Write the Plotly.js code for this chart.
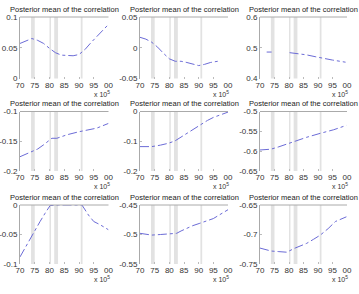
<!DOCTYPE html>
<html><head><meta charset="utf-8">
<script src="https://cdn.plot.ly/plotly-3.0.1.min.js"></script>
<style>html,body{margin:0;padding:0;background:#fff;}#c{width:359px;height:294px;}</style>
</head><body><div id="c"></div>
<script>
const xTickVals = [1970, 1975, 1980, 1985, 1990, 1995, 2000];
const xTickText = ["70", "75", "80", "85", "90", "95", "00"];
const recessions = [[1973.75, 1975.0], [1980.0, 1980.5], [1981.6, 1982.9], [1990.6, 1991.2]];
const titleText = "Posterior mean of the correlation";

const x1 = [1970,1972,1974,1976,1978,1980,1982,1984,1986,1988,1990,1992,1994,1996,1998,2000];
const y1 = [0.057,0.061,0.065,0.062,0.057,0.049,0.042,0.038,0.037,0.037,0.039,0.047,0.058,0.068,0.078,0.088];

const x2 = [1970,1972,1974,1976,1978,1980,1982,1984,1986,1988,1990,1992,1994,1996.5];
const y2 = [0.017,0.014,0.009,0.001,-0.009,-0.018,-0.022,-0.022,-0.024,-0.027,-0.029,-0.027,-0.024,-0.022];

const x3 = [1972.3,1973.2,1974.0,null,1980.2,1983,1986,1989,1992,1995,1999.5];
const y3 = [0.486,0.486,0.486,null,0.484,0.481,0.477,0.471,0.465,0.460,0.453];

const x4 = [1970,1972,1974.5,1976,1978,1980.8,1982.5,1986,1990,1993,1996,2000];
const y4 = [-0.176,-0.172,-0.167,-0.163,-0.156,-0.145,-0.145,-0.139,-0.134,-0.131,-0.128,-0.120];

const x5 = [1970,1974,1977,1979.6,1981.9,1984,1986,1988,1990.4,1993,1995,1998,2000];
const y5 = [-0.118,-0.118,-0.113,-0.107,-0.099,-0.086,-0.073,-0.060,-0.045,-0.030,-0.020,-0.010,-0.002];

const x6 = [1970,1973.8,1976.5,1979.2,1982.1,1986.1,1990.8,1995.4,1999.8];
const y6 = [-0.597,-0.595,-0.589,-0.582,-0.574,-0.565,-0.555,-0.546,-0.535];

const x7 = [1970,1972,1974,1976.8,1978.5,1980.2,1983,1986,1989,1991,1993.2,1995,1997,2000];
const y7 = [-0.088,-0.070,-0.051,-0.028,-0.014,-0.001,0,0,0,0,-0.017,-0.028,-0.033,-0.042];

const x8 = [1970,1972,1974,1977,1979.6,1982.5,1984,1986,1988,1990.4,1993,1995,1997,2000];
const y8 = [-0.498,-0.500,-0.501,-0.500,-0.499,-0.498,-0.494,-0.489,-0.485,-0.481,-0.477,-0.473,-0.467,-0.458];

const x9 = [1970,1972,1973.8,1976.5,1979.2,1982.1,1984,1986.1,1988.5,1990.8,1993.5,1996,1999.8];
const y9 = [-0.723,-0.726,-0.728,-0.729,-0.730,-0.723,-0.719,-0.715,-0.708,-0.701,-0.690,-0.678,-0.670];

const yRanges = [[0,0.1],[-0.05,0.05],[0.4,0.6],[-0.2,-0.1],[-0.2,0],[-0.65,-0.5],[-0.1,0],[-0.55,-0.45],[-0.75,-0.65]];
const yTicks = [[0,0.05,0.1],[-0.05,0,0.05],[0.4,0.5,0.6],[-0.2,-0.15,-0.1],[-0.2,-0.1,0],[-0.65,-0.6,-0.55,-0.5],[-0.1,-0.05,0],[-0.55,-0.5,-0.45],[-0.75,-0.7,-0.65]];

const xs = [x1,x2,x3,x4,x5,x6,x7,x8,x9];
const ys = [y1,y2,y3,y4,y5,y6,y7,y8,y9];

const W = 359, H = 294;
const colPx = [[20,108.5],[140,228],[260,347]];
const rowPx = [[17,78.5],[111.5,171],[205,264]];

const data = [];
const layout = {
  width: W, height: H, margin: {l:0,r:0,t:0,b:0},
  paper_bgcolor: "#fff", plot_bgcolor: "#fff",
  showlegend: false,
  font: {family: "Liberation Sans, Arial, sans-serif", size: 8, color: "#222"},
  shapes: [], annotations: []
};
for (let i = 0; i < 9; i++) {
  const r = Math.floor(i / 3), c = i % 3;
  const n = i === 0 ? "" : String(i + 1);
  const xa = "x" + n, ya = "y" + n;
  data.push({
    x: xs[i], y: ys[i], xaxis: xa, yaxis: ya, type: "scatter", mode: "lines",
    line: {color: "#6b6bd6", width: 1, dash: "dashdot"}, connectgaps: false
  });
  layout["xaxis" + n] = {
    domain: [colPx[c][0] / W, colPx[c][1] / W], anchor: ya,
    range: [1970, 2000], tickvals: xTickVals, ticktext: xTickText,
    showgrid: false, zeroline: false, showline: false,
    ticks: "inside", ticklen: 2, tickcolor: "#bbb", tickfont: {size: 8, color: "#333"}
  };
  layout["yaxis" + n] = {
    domain: [1 - rowPx[r][1] / H, 1 - rowPx[r][0] / H], anchor: xa,
    range: yRanges[i], tickvals: yTicks[i], ticktext: yTicks[i].map(v => String(v)),
    showgrid: false, zeroline: false, showline: true, linecolor: "#aaa", linewidth: 1,
    ticks: "inside", ticklen: 2, tickcolor: "#bbb", tickfont: {size: 8, color: "#333"}
  };
  for (const rc of recessions) {
    layout.shapes.push({type: "rect", xref: xa, yref: ya + " domain", x0: rc[0], x1: rc[1], y0: 0, y1: 1,
      fillcolor: "#e2e2e2", line: {width: 0}, layer: "below"});
  }
  layout.shapes.push({type: "line", xref: xa + " domain", yref: ya + " domain", x0: 0, x1: 1, y0: 1, y1: 1,
    line: {color: "#aaa", width: 1}});
  layout.annotations.push({
    text: titleText, xref: xa + " domain", yref: ya + " domain", x: 0.5, y: 1, yshift: 1,
    xanchor: "center", yanchor: "bottom", showarrow: false, font: {size: 7.5, color: "#222"}
  });
  layout.annotations.push({
    text: "x 10<sup>5</sup>", xref: xa + " domain", yref: ya + " domain", x: 1, y: 0, yshift: -9, xshift: 3,
    xanchor: "right", yanchor: "top", showarrow: false, font: {size: 7, color: "#333"}
  });
}
Plotly.newPlot("c", data, layout, {displayModeBar: false, staticPlot: true});
</script></body></html>
